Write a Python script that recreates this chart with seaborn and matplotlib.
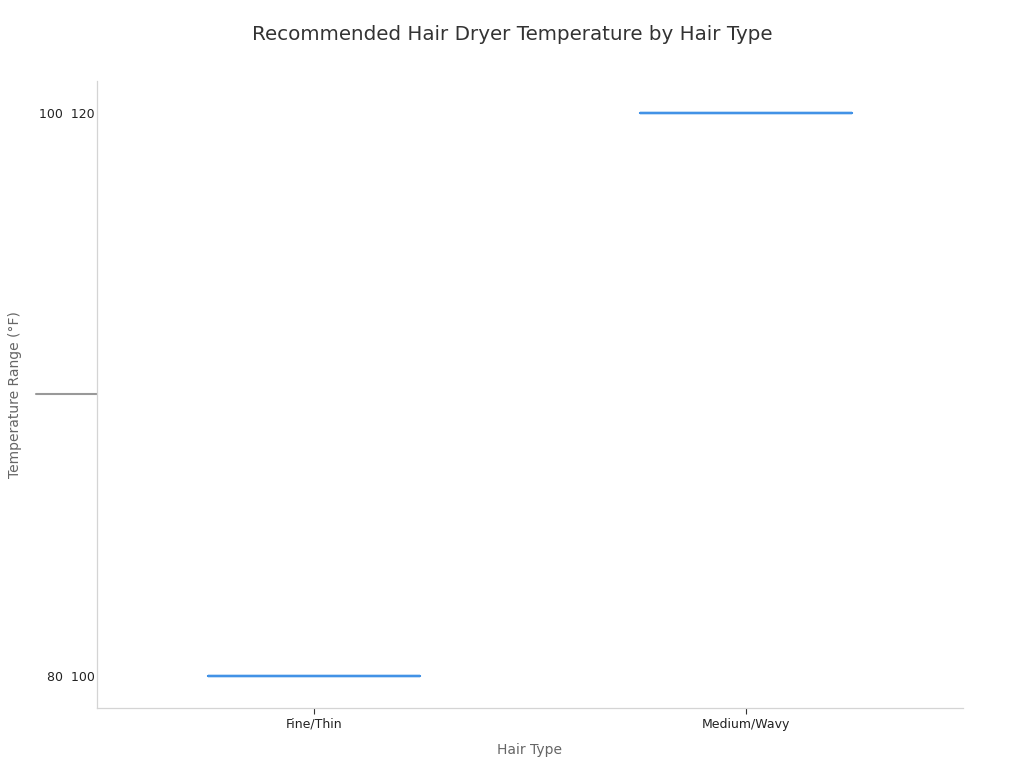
import matplotlib
matplotlib.use("Agg")
import matplotlib.pyplot as plt
import seaborn as sns
import pandas as pd
from matplotlib.lines import Line2D

hair_types = ["Fine/Thin", "Medium/Wavy"]
temp_low = [80, 100]
temp_high = [100, 120]
range_labels = [f"{lo}  {hi}" for lo, hi in zip(temp_low, temp_high)]

sns.set_theme(style="white")
plt.rcParams['font.family'] = ['DejaVu Sans']

# each range becomes one categorical level on the y axis
df = pd.DataFrame({"hair": hair_types, "range": range_labels})
df["pos"] = [range_labels.index(r) for r in df["range"]]

fig, ax = plt.subplots(figsize=(10.24, 7.68), dpi=100)
sns.boxplot(data=df, x="hair", y="pos", order=hair_types, width=0.49,
            fill=False, color="#4292e6", linewidth=1.6, whis=0,
            showcaps=False, showfliers=False, ax=ax,
            medianprops={"color": "#4292e6", "linewidth": 1.6})

ax.set_ylim(-0.057, 1.057)
ax.set_xlim(-0.5, 1.5)
ax.set_yticks(range(len(range_labels)))
ax.set_yticklabels(range_labels, fontsize=9, color="#222222")
ax.tick_params(axis="y", length=0, pad=2)
ax.tick_params(axis="x", length=4, width=0.8, color="#333333", labelsize=9,
               labelcolor="#222222", bottom=True, pad=3)

sns.despine(ax=ax)
for side in ["left", "bottom"]:
    ax.spines[side].set_color("#d4d4d4")
    ax.spines[side].set_linewidth(0.9)

# grey marker sitting left of the axis at mid height
ax.add_line(Line2D([-0.0704, 0], [0.5, 0.5], transform=ax.transAxes,
                   color="#999999", linewidth=1.5, clip_on=False))

ax.set_xlabel("Hair Type", fontsize=10, color="#666666", labelpad=9)
ax.set_ylabel("Temperature Range (°F)", fontsize=10, color="#666666", labelpad=12)
fig.suptitle("Recommended Hair Dryer Temperature by Hair Type",
             fontsize=14.3, color="#333333", y=0.967)

fig.subplots_adjust(left=0.095, right=0.94, top=0.895, bottom=0.078)
fig.savefig("out.png", dpi=100)
